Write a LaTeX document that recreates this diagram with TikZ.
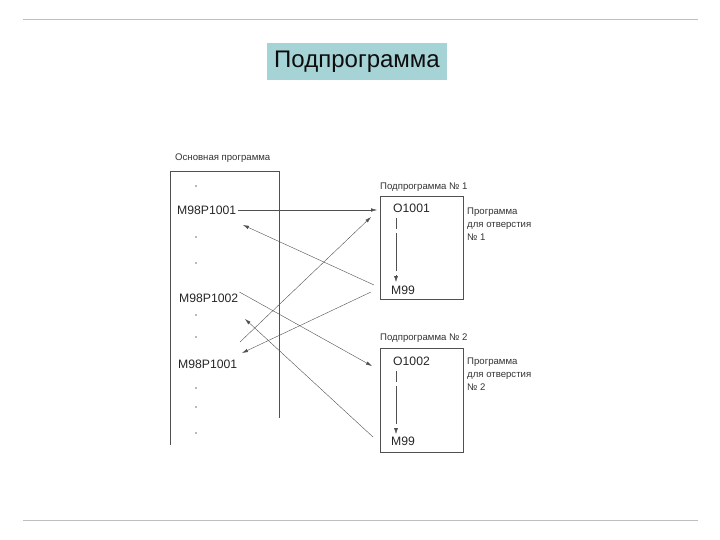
\documentclass[tikz,border=0pt]{standalone}
\usepackage{fontspec}
\setmainfont{Liberation Sans}
\usepackage{tikz}
\usetikzlibrary{
  arrows.meta,
  positioning
}
\definecolor{titlefill}{HTML}{A6D3D6}
\definecolor{rulegray}{HTML}{BEBEBE}
\definecolor{linegray}{HTML}{505050}

\tikzset{
  code/.style={font=\fontsize{12.2}{14}\selectfont, inner sep=0pt, text=black!85},
  small/.style={font=\fontsize{9.6}{12.6}\selectfont, inner sep=0pt, text=black!80, align=left},
  jump/.style={draw=linegray, -{Latex[length=6pt,width=3.5pt]}},
  dotmark/.style={circle, fill=black!55, inner sep=0pt, minimum size=1.6pt}
}

\begin{document}
\begin{tikzpicture}[x=1pt, y=-1pt]
  \useasboundingbox (0,0) rectangle (720,540);
  \draw[rulegray, line width=1pt] (23,20) -- (698,20);
  \draw[rulegray, line width=1pt] (23,520) -- (698,520);

  \node[fill=titlefill, minimum width=180pt, minimum height=37pt,
        font=\fontsize{24}{28}\selectfont, text=black!95] (title) at (357,62) {Подпрограмма};

  % main program
  \node[small, anchor=west] (mainlbl) at (175,158) {Основная программа};
  \draw[linegray, thick] (170,445) -- (170,171) -- (279,171) -- (279,418);
  \foreach \y in {186,237,263,315,337,388,407,433}
    \node[dotmark] at (196,\y) {};

  \node[code, anchor=west] (call1) at (177,210) {M98P1001};
  \node[code, anchor=west] (call2) at (179,298) {M98P1002};
  \node[code, anchor=west] (call3) at (178,364) {M98P1001};

  % subprogram 1
  \node[small, anchor=west] (sub1lbl) at (380,187) {Подпрограмма № 1};
  \draw[linegray, thick] (380,196) rectangle (463,299);
  \node[code, anchor=west] (o1) at (393,208) {O1001};
  \node[code, anchor=west] (m1) at (391,290) {M99};
  \node[small, anchor=north west] (note1) at (467,208) {Программа\\для отверстия\\№ 1};
  \draw[linegray, dash pattern=on 11pt off 4pt on 38pt off 4pt,
        -{Latex[length=6pt,width=4pt]}] (396,218) -- (396,282);

  % subprogram 2
  \node[small, anchor=west] (sub2lbl) at (380,338) {Подпрограмма № 2};
  \draw[linegray, thick] (380,348) rectangle (463,452);
  \node[code, anchor=west] (o2) at (393,361) {O1002};
  \node[code, anchor=west] (m2) at (391,441) {M99};
  \node[small, anchor=north west] (note2) at (467,358) {Программа\\для отверстия\\№ 2};
  \draw[linegray, dash pattern=on 11pt off 4pt on 38pt off 4pt,
        -{Latex[length=6pt,width=4pt]}] (396,371) -- (396,434);

  % jumps
  \coordinate (in1) at (377,210);
  \coordinate (back1) at (243,225);
  \coordinate (from3) at (240,342);
  \coordinate (in1b) at (371,217);
  \coordinate (out1b) at (371,292);
  \coordinate (back3) at (242,353);
  \coordinate (in2) at (372,366);
  \coordinate (back2) at (245,319);
  \coordinate (out2) at (373,437);
  \coordinate (out1) at (374,285);

  \draw[jump] (call1.east) ++(2pt,0) -- (in1);
  \draw[jump] (out1) -- (back1);
  \draw[jump] (from3) -- (in1b);
  \draw[jump] (out1b) -- (back3);
  \draw[jump] (call2.east) ++(1pt,6pt) -- (in2);
  \draw[jump] (out2) -- (back2);
\end{tikzpicture}
\end{document}
